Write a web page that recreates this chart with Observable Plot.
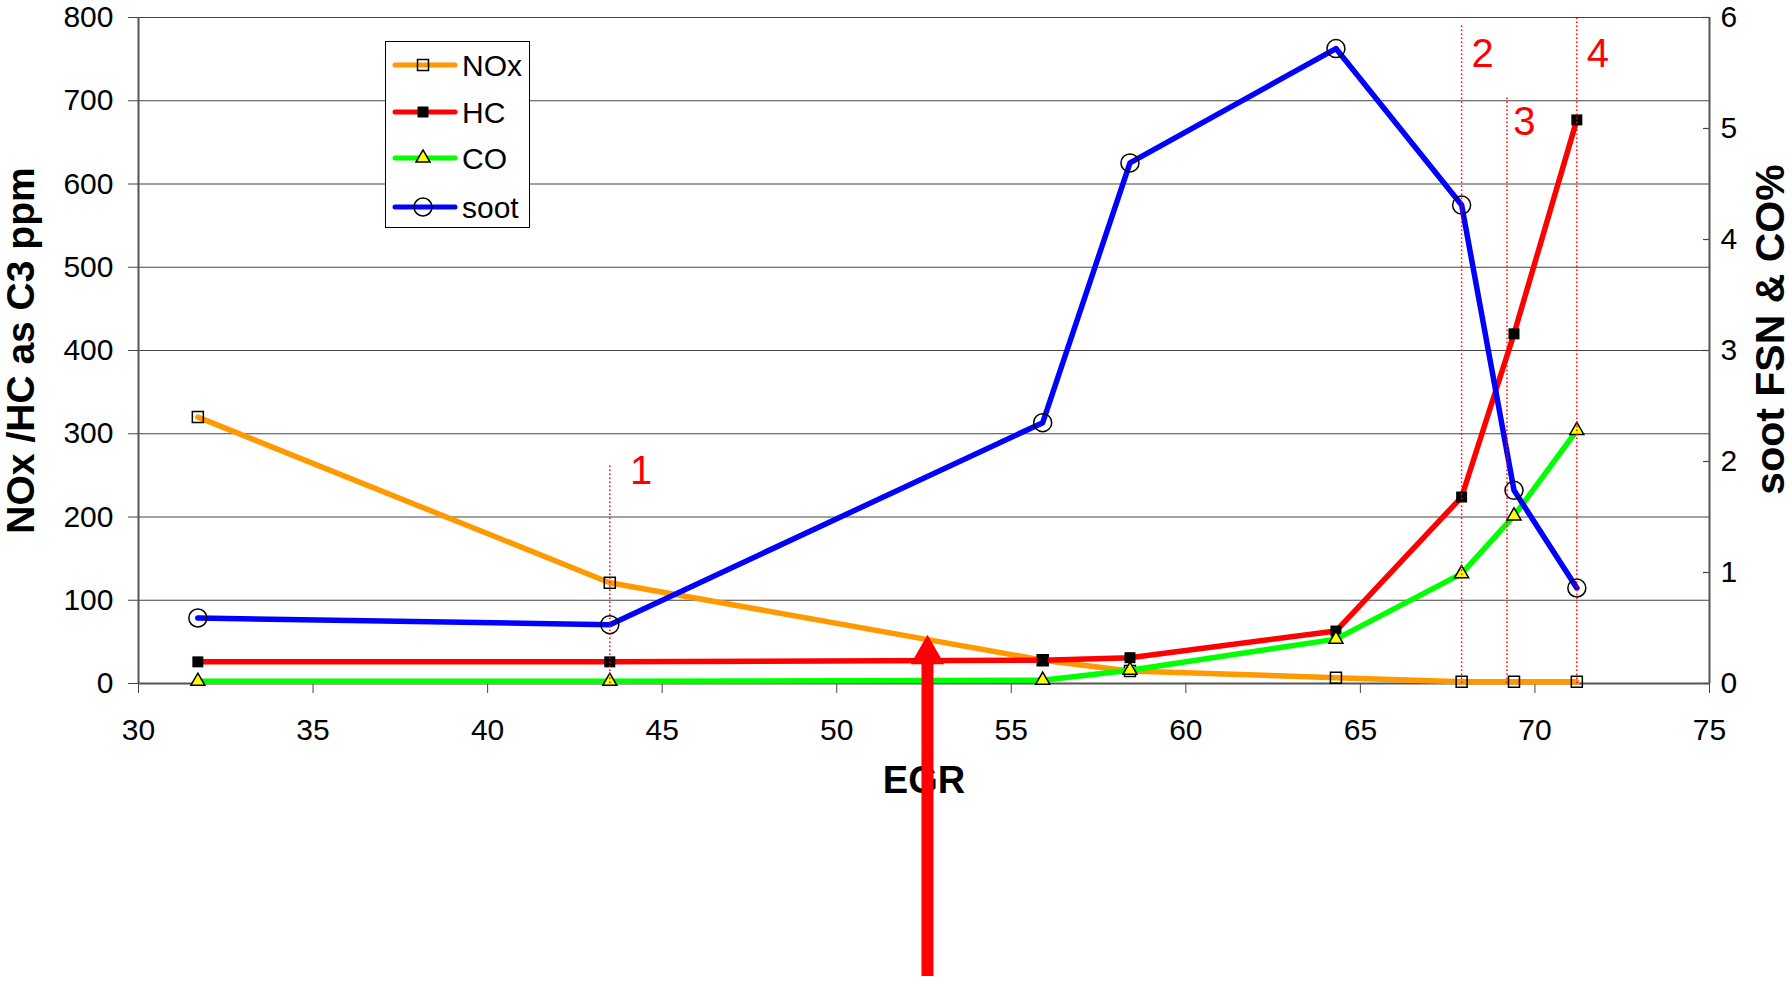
<!DOCTYPE html>
<html>
<head>
<meta charset="utf-8">
<script src="https://cdn.jsdelivr.net/npm/d3@7"></script>
<script src="https://cdn.jsdelivr.net/npm/@observablehq/plot@0.6"></script>
<style>
  body { margin: 0; background: #fff; }
  #chart { position: relative; width: 1792px; height: 981px; font-family: "Liberation Sans", Arial, sans-serif; }
  #legend { position: absolute; left: 385px; top: 41px; }
</style>
</head>
<body>
<div id="chart"></div>
<script>
// EGR sweep: emissions measured at each EGR rate (%)
const egr  = [31.7, 43.5, 55.9, 58.4, 64.3, 67.9, 69.4, 71.2];
const nox  = [320, 121, 28, 15, 7, 2, 2, 2];              // ppm (left axis)
const hc   = [26, 26, 28, 31, 63, 224, 420, 677];         // ppm as C3 (left axis)
const co   = [0.02, 0.02, 0.03, 0.12, 0.40, 0.99, 1.51, 2.28]; // % (right axis)
const soot = [0.59, 0.53, 2.35, 4.69, 5.72, 4.31, 1.74, 0.86]; // FSN (right axis)

const xTicks = [30, 35, 40, 45, 50, 55, 60, 65, 70, 75];
const leftTicks = [0, 100, 200, 300, 400, 500, 600, 700, 800];
const rightTicks = [0, 1, 2, 3, 4, 5, 6];

// numbered operating points (dotted markers)
const pointLabels = ["1", "2", "3", "4"];
const pointX      = [43.5, 67.9, 69.2, 71.2];
const pointTop    = [264, 790, 706, 800];
const labelX      = [44.4, 68.5, 69.7, 71.8];
const labelY      = [255, 756, 674, 756];

// highlight arrow at the chosen EGR rate
const arrowX = 52.6;
const arrowBase = -352;
const arrowHead = 35;

const series = [
  {name: "NOx",  color: "#ff9900", key: "nox",  symbol: "square",   r: 6.2, fill: "none",    stroke: "#000"},
  {name: "HC",   color: "#ff0000", key: "hc",   symbol: "square",   r: 6.2, fill: "#000",    stroke: "none"},
  {name: "CO",   color: "#00ff00", key: "co",   symbol: "triangle", r: 5.2, fill: "#ffff00", stroke: "#000"},
  {name: "soot", color: "#0000ff", key: "soot", symbol: "circle",   r: 9,   fill: "none",    stroke: "#000"}
];

// right axis (0–6) is drawn on the left-axis scale (0–800)
const k = 800 / 6;
const rows = egr.map((x, i) => ({egr: x, nox: nox[i], hc: hc[i], co: co[i] * k, soot: soot[i] * k}));
const points = pointLabels.map((t, i) => ({t, x: pointX[i], top: pointTop[i], lx: labelX[i], ly: labelY[i]}));

const font = `"Liberation Sans", Arial, sans-serif`;

const seriesMarks = series.flatMap(s => [
  Plot.line(rows, {x: "egr", y: s.key, stroke: s.color, strokeWidth: 5.5}),
  Plot.dot(rows, {x: "egr", y: s.key, symbol: s.symbol, r: s.r, fill: s.fill, stroke: s.stroke, strokeWidth: 1.5})
]);

const chart = Plot.plot({
  width: 1792,
  height: 981,
  marginLeft: 138,
  marginRight: 83,
  marginTop: 17,
  marginBottom: 298,
  style: {fontFamily: font, fontSize: "30px", color: "#000", background: "#fff"},
  x: {domain: [30, 75]},
  y: {domain: [0, 800]},
  marks: [
    Plot.gridY(leftTicks.slice(1), {stroke: "#444", strokeOpacity: 1, strokeWidth: 1.2}),
    Plot.axisX(xTicks, {tickSize: 10, tickPadding: 25, fontSize: 30, label: null, stroke: "#444"}),
    Plot.axisY(leftTicks, {anchor: "left", tickSize: 10, tickPadding: 15, fontSize: 30, label: null, stroke: "#444"}),
    Plot.axisY(rightTicks.map(v => v * k), {anchor: "right", tickSize: 0, tickPadding: 11, fontSize: 30, label: null, tickFormat: d => Math.round(d / k)}),
    Plot.tickY(rightTicks.map(v => v * k), {insetLeft: 1565, stroke: "#444", strokeWidth: 1.2}),
    Plot.ruleY([0], {stroke: "#555", strokeWidth: 2}),
    Plot.ruleX([30, 75], {stroke: "#555", strokeWidth: 2}),
    ...seriesMarks,
    Plot.ruleX(points, {x: "x", y1: 0, y2: "top", stroke: "#ff0000", strokeWidth: 1.5, strokeDasharray: "1.5,2.5"}),
    Plot.text(points, {x: "lx", y: "ly", text: "t", fill: "#ff0000", fontSize: 40}),
    Plot.text(["EGR"], {frameAnchor: "bottom", lineAnchor: "middle", dy: 97, fontSize: 38, fontWeight: "bold"}),
    Plot.text(["NOx /HC as C3 ppm"], {frameAnchor: "left", textAnchor: "middle", lineAnchor: "middle", dx: -117, rotate: -90, fontSize: 39, fontWeight: "bold"}),
    Plot.text(["soot FSN & CO%"], {frameAnchor: "right", textAnchor: "middle", lineAnchor: "middle", dx: 61, dy: -21, rotate: -90, fontSize: 41, fontWeight: "bold"}),
    Plot.ruleX([arrowX], {y1: arrowBase, y2: arrowHead, stroke: "#ff0000", strokeWidth: 12}),
    Plot.dot([arrowX], {x: d => d, y: () => arrowHead, symbol: "triangle", r: 12.6, fill: "#ff0000"})
  ]
});

const root = document.getElementById("chart");
root.appendChild(chart);

// legend box drawn inside the plotting area
const lw = 145, lh = 187, rowY = [24, 71, 117, 166];
const legend = d3.create("svg").attr("id", "legend").attr("width", lw).attr("height", lh);
legend.append("rect").attr("x", 0.5).attr("y", 0.5).attr("width", lw - 1).attr("height", lh - 1)
  .attr("fill", "#fff").attr("stroke", "#000").attr("stroke-width", 1);
const symbols = {square: d3.symbolSquare, triangle: d3.symbolTriangle, circle: d3.symbolCircle};
series.forEach((s, i) => {
  const g = legend.append("g").attr("transform", `translate(0,${rowY[i]})`);
  g.append("line").attr("x1", 10).attr("x2", 70).attr("stroke", s.color).attr("stroke-width", 5).attr("stroke-linecap", "round");
  g.append("path").attr("transform", "translate(38,0)")
    .attr("d", d3.symbol(symbols[s.symbol], Math.PI * s.r * s.r)())
    .attr("fill", s.fill).attr("stroke", s.stroke).attr("stroke-width", 1.5);
  g.append("text").attr("x", 77).attr("dy", "0.36em").attr("font-size", 30)
    .attr("font-family", font).text(s.name);
});
root.appendChild(legend.node());
</script>
</body>
</html>
